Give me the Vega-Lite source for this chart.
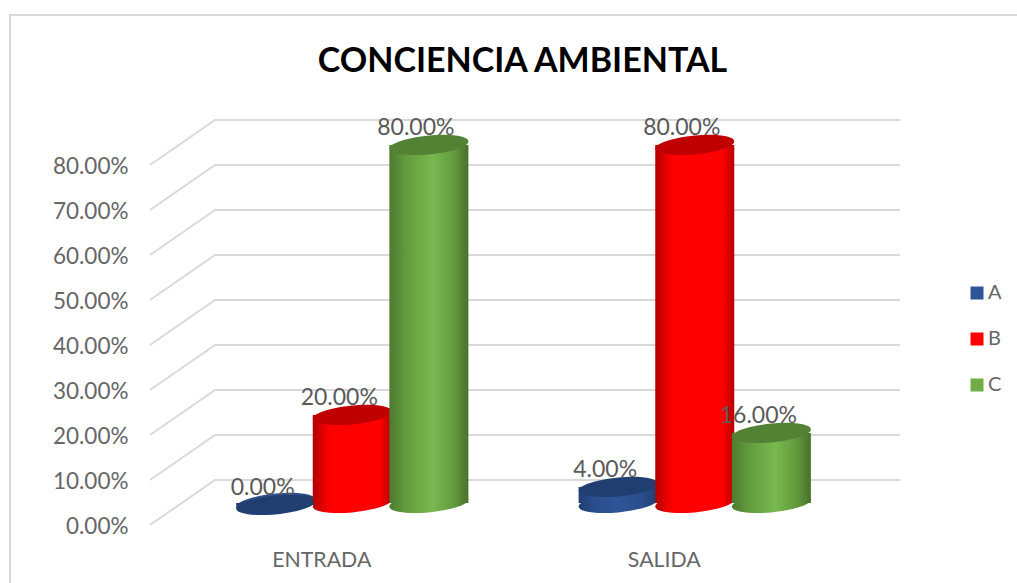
{"$schema":"https://vega.github.io/schema/vega-lite/v6.json","width":1007,"height":568,"autosize":"none","padding":{"left":10,"top":15,"right":0,"bottom":0},"background":"white","config":{"view":{"stroke":null},"font":"Lato"},
"title":{"text":"CONCIENCIA AMBIENTAL","fontSize":34,"fontWeight":"bold","font":"Lato","color":"#000000","anchor":"middle","frame":"group","dx":9,"offset":-68},
"datasets":{"d":[{"grupo":"ENTRADA","serie":"A","valor":0},{"grupo":"ENTRADA","serie":"B","valor":0.2},{"grupo":"ENTRADA","serie":"C","valor":0.8},{"grupo":"SALIDA","serie":"A","valor":0.04},{"grupo":"SALIDA","serie":"B","valor":0.8},{"grupo":"SALIDA","serie":"C","valor":0.16}],
"wall":[{"l":"0","p":0,"v":-0.1289},{"l":"0","p":0,"v":1.1333},{"l":"0","p":1,"v":1.1333},
{"l":"g0","p":0.139,"v":0},{"l":"g0","p":0.2036,"v":0.1},{"l":"g0","p":0.8838,"v":0.1},
{"l":"g1","p":0.139,"v":0.1},{"l":"g1","p":0.2036,"v":0.2},{"l":"g1","p":0.8838,"v":0.2},
{"l":"g2","p":0.139,"v":0.2},{"l":"g2","p":0.2036,"v":0.3},{"l":"g2","p":0.8838,"v":0.3},
{"l":"g3","p":0.139,"v":0.3},{"l":"g3","p":0.2036,"v":0.4},{"l":"g3","p":0.8838,"v":0.4},
{"l":"g4","p":0.139,"v":0.4},{"l":"g4","p":0.2036,"v":0.5},{"l":"g4","p":0.8838,"v":0.5},
{"l":"g5","p":0.139,"v":0.5},{"l":"g5","p":0.2036,"v":0.6},{"l":"g5","p":0.8838,"v":0.6},
{"l":"g6","p":0.139,"v":0.6},{"l":"g6","p":0.2036,"v":0.7},{"l":"g6","p":0.8838,"v":0.7},
{"l":"g7","p":0.139,"v":0.7},{"l":"g7","p":0.2036,"v":0.8},{"l":"g7","p":0.8838,"v":0.8},
{"l":"g8","p":0.139,"v":0.8},{"l":"g8","p":0.2036,"v":0.9},{"l":"g8","p":0.8838,"v":0.9}]},
"resolve":{"scale":{"x":"independent"},"axis":{"x":"independent"}},
"layer":[
{"data":{"name":"wall"},"mark":{"type":"line","color":"#d9d9d9","strokeWidth":2},"encoding":{"x":{"field":"p","type":"quantitative","scale":{"domain":[0,1],"nice":false,"zero":false},"axis":null},"y":{"field":"v","type":"quantitative","scale":{"domain":[-0.1289,1.1333],"nice":false,"zero":false},"axis":{"title":null,"values":[0,0.1,0.2,0.3,0.4,0.5,0.6,0.7,0.8],"format":".2%","domain":false,"ticks":false,"grid":false,"labelFontSize":22.5,"labelColor":"#666666","labelPadding":0,"labelOffset":2,"offset":-118,"labelFont":"Lato"}},"detail":{"field":"l"}}},
{"data":{"name":"d"},"mark":{"type":"point","opacity":0},"encoding":{"x":{"field":"grupo","type":"nominal","scale":{"domain":["ENTRADA","SALIDA"],"range":[140,825],"paddingInner":0,"paddingOuter":0},"axis":{"title":null,"domain":false,"ticks":false,"labelAngle":0,"labelFontSize":21.3,"labelColor":"#666666","labelPadding":0,"offset":-34,"labelFont":"Lato"}},"y":{"datum":0,"type":"quantitative"}}},
{"data":{"name":"d"},"mark":{"type":"bar","width":76,"yOffset":-20,"y2Offset":-22},"encoding":{"x":{"field":"grupo","type":"nominal","scale":{"domain":["ENTRADA","SALIDA"],"range":[171,856],"paddingInner":0,"paddingOuter":0},"axis":null},"xOffset":{"field":"serie","type":"nominal","scale":{"domain":["A","B","C"],"paddingInner":0,"paddingOuter":0.735}},"y":{"field":"valor","type":"quantitative","stack":null},"y2":{"datum":0},"color":{"field":"serie","type":"nominal","scale":{"domain":["A","B","C"],"range":["#2f5597","#ff0000","#70ad47"]},"legend":{"title":null,"orient":"none","legendX":957,"legendY":268,"symbolType":"square","symbolSize":169,"labelFontSize":20,"labelColor":"#666666","rowPadding":26,"labelOffset":1,"symbolStrokeWidth":0,"labelFont":"Lato"}}}},
{"data":{"name":"d"},"transform":[{"filter":"datum.serie==='A'"}],"layer":[
{"mark":{"type":"point","filled":true,"opacity":1,"size":6241,"yOffset":-22,"shape":"M1,-.09C1,.0425,.5523,.1813,0,.24C-.5523,.2897,-1,.2225,-1,.09C-1,-.0425,-.5523,-.1813,0,-.24C.5523,-.2897,1,-.2225,1,-.09Z","color":{"x1":0,"x2":1,"y1":0,"y2":0,"gradient":"linear","stops":[{"offset":0,"color":"#1f3f73"},{"offset":0.2,"color":"#2a4e8c"},{"offset":0.5,"color":"#2f5597"},{"offset":0.8,"color":"#2a4e8c"},{"offset":1,"color":"#1f3f73"}]}},"encoding":{"x":{"field":"grupo","type":"nominal","scale":{"domain":["ENTRADA","SALIDA"],"range":[171,856],"paddingInner":0,"paddingOuter":0},"axis":null},"xOffset":{"field":"serie","type":"nominal","scale":{"domain":["A","B","C"],"paddingInner":0,"paddingOuter":0.735}},"y":{"datum":0,"type":"quantitative"}}},
{"mark":{"type":"bar","width":79,"yOffset":-20,"y2Offset":-22,"color":{"x1":0,"x2":1,"y1":0,"y2":0,"gradient":"linear","stops":[{"offset":0,"color":"#1f3f73"},{"offset":0.2,"color":"#2a4e8c"},{"offset":0.5,"color":"#2f5597"},{"offset":0.8,"color":"#2a4e8c"},{"offset":1,"color":"#1f3f73"}]}},"encoding":{"x":{"field":"grupo","type":"nominal","scale":{"domain":["ENTRADA","SALIDA"],"range":[171,856],"paddingInner":0,"paddingOuter":0},"axis":null},"xOffset":{"field":"serie","type":"nominal","scale":{"domain":["A","B","C"],"paddingInner":0,"paddingOuter":0.735}},"y":{"field":"valor","type":"quantitative","stack":null},"y2":{"datum":0}}},
{"mark":{"type":"point","filled":true,"opacity":1,"size":6241,"yOffset":-20,"color":"#203f70","shape":"M1,-.09C1,.0425,.5523,.1813,0,.24C-.5523,.2897,-1,.2225,-1,.09C-1,-.0425,-.5523,-.1813,0,-.24C.5523,-.2897,1,-.2225,1,-.09Z"},"encoding":{"x":{"field":"grupo","type":"nominal","scale":{"domain":["ENTRADA","SALIDA"],"range":[171,856],"paddingInner":0,"paddingOuter":0},"axis":null},"xOffset":{"field":"serie","type":"nominal","scale":{"domain":["A","B","C"],"paddingInner":0,"paddingOuter":0.735}},"y":{"field":"valor","type":"quantitative"}}}]},
{"data":{"name":"d"},"transform":[{"filter":"datum.serie==='B'"}],"layer":[
{"mark":{"type":"point","filled":true,"opacity":1,"size":6241,"yOffset":-22,"shape":"M1,-.09C1,.0425,.5523,.1813,0,.24C-.5523,.2897,-1,.2225,-1,.09C-1,-.0425,-.5523,-.1813,0,-.24C.5523,-.2897,1,-.2225,1,-.09Z","color":{"x1":0,"x2":1,"y1":0,"y2":0,"gradient":"linear","stops":[{"offset":0,"color":"#b00000"},{"offset":0.18,"color":"#f50000"},{"offset":0.3,"color":"#ff0000"},{"offset":0.85,"color":"#ff0000"},{"offset":1,"color":"#b80000"}]}},"encoding":{"x":{"field":"grupo","type":"nominal","scale":{"domain":["ENTRADA","SALIDA"],"range":[171,856],"paddingInner":0,"paddingOuter":0},"axis":null},"xOffset":{"field":"serie","type":"nominal","scale":{"domain":["A","B","C"],"paddingInner":0,"paddingOuter":0.735}},"y":{"datum":0,"type":"quantitative"}}},
{"mark":{"type":"bar","width":79,"yOffset":-20,"y2Offset":-22,"color":{"x1":0,"x2":1,"y1":0,"y2":0,"gradient":"linear","stops":[{"offset":0,"color":"#b00000"},{"offset":0.18,"color":"#f50000"},{"offset":0.3,"color":"#ff0000"},{"offset":0.85,"color":"#ff0000"},{"offset":1,"color":"#b80000"}]}},"encoding":{"x":{"field":"grupo","type":"nominal","scale":{"domain":["ENTRADA","SALIDA"],"range":[171,856],"paddingInner":0,"paddingOuter":0},"axis":null},"xOffset":{"field":"serie","type":"nominal","scale":{"domain":["A","B","C"],"paddingInner":0,"paddingOuter":0.735}},"y":{"field":"valor","type":"quantitative","stack":null},"y2":{"datum":0}}},
{"mark":{"type":"point","filled":true,"opacity":1,"size":6241,"yOffset":-20,"color":"#c00000","shape":"M1,-.09C1,.0425,.5523,.1813,0,.24C-.5523,.2897,-1,.2225,-1,.09C-1,-.0425,-.5523,-.1813,0,-.24C.5523,-.2897,1,-.2225,1,-.09Z"},"encoding":{"x":{"field":"grupo","type":"nominal","scale":{"domain":["ENTRADA","SALIDA"],"range":[171,856],"paddingInner":0,"paddingOuter":0},"axis":null},"xOffset":{"field":"serie","type":"nominal","scale":{"domain":["A","B","C"],"paddingInner":0,"paddingOuter":0.735}},"y":{"field":"valor","type":"quantitative"}}}]},
{"data":{"name":"d"},"transform":[{"filter":"datum.serie==='C'"}],"layer":[
{"mark":{"type":"point","filled":true,"opacity":1,"size":6241,"yOffset":-22,"shape":"M1,-.09C1,.0425,.5523,.1813,0,.24C-.5523,.2897,-1,.2225,-1,.09C-1,-.0425,-.5523,-.1813,0,-.24C.5523,-.2897,1,-.2225,1,-.09Z","color":{"x1":0,"x2":1,"y1":0,"y2":0,"gradient":"linear","stops":[{"offset":0,"color":"#4d7a30"},{"offset":0.2,"color":"#619a3c"},{"offset":0.55,"color":"#79b94f"},{"offset":0.82,"color":"#619a3c"},{"offset":1,"color":"#4a702c"}]}},"encoding":{"x":{"field":"grupo","type":"nominal","scale":{"domain":["ENTRADA","SALIDA"],"range":[171,856],"paddingInner":0,"paddingOuter":0},"axis":null},"xOffset":{"field":"serie","type":"nominal","scale":{"domain":["A","B","C"],"paddingInner":0,"paddingOuter":0.735}},"y":{"datum":0,"type":"quantitative"}}},
{"mark":{"type":"bar","width":79,"yOffset":-20,"y2Offset":-22,"color":{"x1":0,"x2":1,"y1":0,"y2":0,"gradient":"linear","stops":[{"offset":0,"color":"#4d7a30"},{"offset":0.2,"color":"#619a3c"},{"offset":0.55,"color":"#79b94f"},{"offset":0.82,"color":"#619a3c"},{"offset":1,"color":"#4a702c"}]}},"encoding":{"x":{"field":"grupo","type":"nominal","scale":{"domain":["ENTRADA","SALIDA"],"range":[171,856],"paddingInner":0,"paddingOuter":0},"axis":null},"xOffset":{"field":"serie","type":"nominal","scale":{"domain":["A","B","C"],"paddingInner":0,"paddingOuter":0.735}},"y":{"field":"valor","type":"quantitative","stack":null},"y2":{"datum":0}}},
{"mark":{"type":"point","filled":true,"opacity":1,"size":6241,"yOffset":-20,"color":"#548235","shape":"M1,-.09C1,.0425,.5523,.1813,0,.24C-.5523,.2897,-1,.2225,-1,.09C-1,-.0425,-.5523,-.1813,0,-.24C.5523,-.2897,1,-.2225,1,-.09Z"},"encoding":{"x":{"field":"grupo","type":"nominal","scale":{"domain":["ENTRADA","SALIDA"],"range":[171,856],"paddingInner":0,"paddingOuter":0},"axis":null},"xOffset":{"field":"serie","type":"nominal","scale":{"domain":["A","B","C"],"paddingInner":0,"paddingOuter":0.735}},"y":{"field":"valor","type":"quantitative"}}}]},
{"data":{"name":"d"},"mark":{"type":"text","fontSize":23,"font":"Lato","color":"#595959","baseline":"alphabetic","align":"center","yOffset":-30,"dx":-13},"encoding":{"x":{"field":"grupo","type":"nominal","scale":{"domain":["ENTRADA","SALIDA"],"range":[171,856],"paddingInner":0,"paddingOuter":0},"axis":null},"xOffset":{"field":"serie","type":"nominal","scale":{"domain":["A","B","C"],"paddingInner":0,"paddingOuter":0.735}},"y":{"field":"valor","type":"quantitative"},"text":{"field":"valor","type":"quantitative","format":".2%"}}}
]}
